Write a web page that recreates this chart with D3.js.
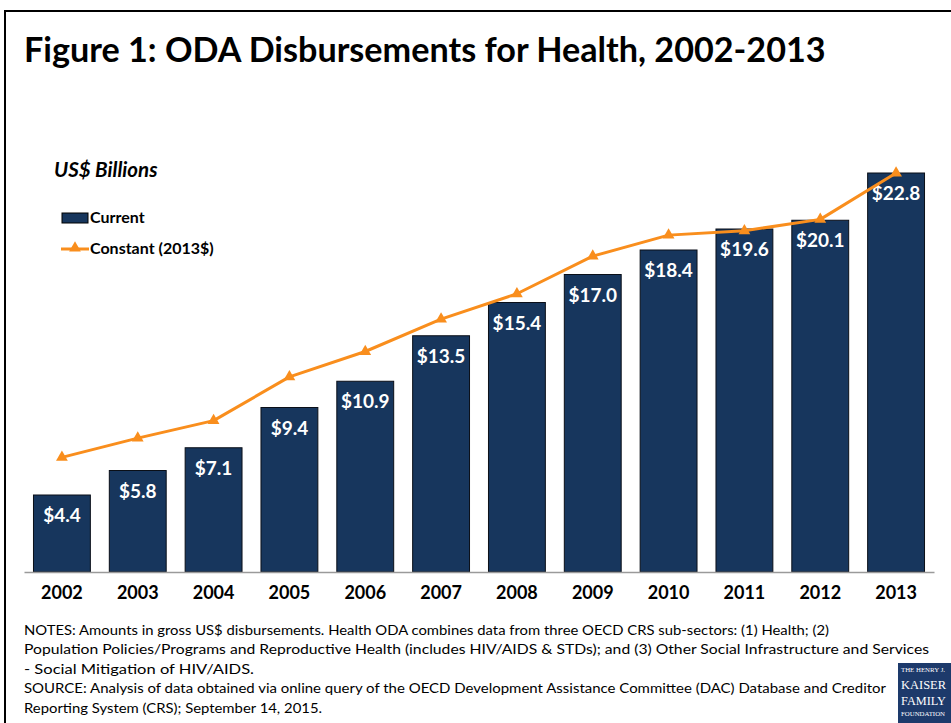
<!DOCTYPE html>
<html>
<head>
<meta charset="utf-8">
<script src="https://cdn.jsdelivr.net/npm/d3@7"></script>
<style>
  html, body { margin: 0; padding: 0; background: #fff; }
  svg { display: block; }
  text { font-family: Lato, "Open Sans", sans-serif; }
</style>
</head>
<body>
<svg id="chart" width="951" height="723"></svg>
<script>
// Health ODA disbursements, US$ billions
const years = ["2002", "2003", "2004", "2005", "2006", "2007", "2008", "2009", "2010", "2011", "2012", "2013"];
const currentValues = [4.4, 5.8, 7.1, 9.4, 10.9, 13.5, 15.4, 17.0, 18.4, 19.6, 20.1, 22.8];
const constantValues = [6.55, 7.65, 8.65, 11.15, 12.6, 14.45, 15.9, 18.05, 19.25, 19.5, 20.15, 22.8];
const seriesNames = ["Current", "Constant (2013$)"];

const notesLines = [
  "NOTES: Amounts in gross US$ disbursements. Health ODA combines data from three OECD CRS sub-sectors: (1) Health; (2)",
  "Population Policies/Programs and Reproductive Health (includes HIV/AIDS & STDs); and (3) Other Social Infrastructure and Services",
  "- Social Mitigation of HIV/AIDS.",
  "SOURCE: Analysis of data obtained via online query of the OECD Development Assistance Committee (DAC) Database and Creditor",
  "Reporting System (CRS); September 14, 2015."
];
// set widths of the note lines
const notesWidths = [805, 905, 230, 862, 298];

const barColor = "#17365d";
const lineColor = "#f98e1d";

const svg = d3.select("#chart");

// outer frame
svg.append("rect")
  .attr("x", 5).attr("y", 11)
  .attr("width", 960).attr("height", 730)
  .attr("fill", "none").attr("stroke", "#000").attr("stroke-width", 2);

// title, sized to its line width
const title = svg.append("text")
  .attr("x", 24).attr("y", 62)
  .attr("font-weight", 700)
  .attr("font-size", 34)
  .attr("fill", "#000")
  .text("Figure 1: ODA Disbursements for Health, 2002-2013");
{
  const w = title.node().getComputedTextLength();
  title.attr("font-size", 34 * 802 / w);
}

svg.append("text")
  .attr("x", 54).attr("y", 177)
  .attr("font-weight", 700).attr("font-style", "italic")
  .attr("font-size", 20.5)
  .text("US$ Billions");

// scales
const x = d3.scaleBand().domain(years).range([24, 934]).paddingInner(0.25).paddingOuter(0.125);
const y = d3.scaleLinear().domain([0, 25]).range([572, 134.5]);

// bars
svg.append("g").selectAll("rect")
  .data(years.map((yr, i) => ({ yr, v: currentValues[i] })))
  .join("rect")
  .attr("x", d => x(d.yr))
  .attr("y", d => y(d.v))
  .attr("width", x.bandwidth())
  .attr("height", d => y(0) - y(d.v))
  .attr("fill", barColor)
  .attr("stroke", "#0a0f18").attr("stroke-width", 1);

// bar value labels
svg.append("g").selectAll("text")
  .data(years.map((yr, i) => ({ yr, v: currentValues[i] })))
  .join("text")
  .attr("x", d => x(d.yr) + x.bandwidth() / 2)
  .attr("y", d => y(d.v) + 27)
  .attr("text-anchor", "middle")
  .attr("font-weight", 700).attr("font-size", 19)
  .attr("fill", "#fff")
  .text(d => "$" + d.v.toFixed(1));

// x axis
const xAxis = svg.append("g")
  .attr("transform", `translate(0,${y(0)})`)
  .call(d3.axisBottom(x).tickSize(0).tickPadding(0));
xAxis.select(".domain").attr("stroke", "#9a9a9a").attr("stroke-width", 1.5);
xAxis.selectAll(".tick text")
  .attr("dy", 0).attr("y", 27)
  .attr("font-family", "Lato, sans-serif")
  .attr("font-size", 18).attr("font-weight", 700).attr("fill", "#000");

// constant-dollar line
const line = d3.line()
  .x((d, i) => x(years[i]) + x.bandwidth() / 2)
  .y(d => y(d));
svg.append("path")
  .datum(constantValues)
  .attr("d", line)
  .attr("fill", "none").attr("stroke", lineColor)
  .attr("stroke-width", 3).attr("stroke-linejoin", "round");

const tri = d3.symbol().type(d3.symbolTriangle).size(60);
svg.append("g").selectAll("path")
  .data(constantValues)
  .join("path")
  .attr("transform", (d, i) => `translate(${x(years[i]) + x.bandwidth() / 2},${y(d)})`)
  .attr("d", tri)
  .attr("fill", lineColor);

// legend
const legend = svg.append("g");
legend.append("rect")
  .attr("x", 62).attr("y", 213).attr("width", 26).attr("height", 10)
  .attr("fill", barColor).attr("stroke", "#000").attr("stroke-width", 1);
legend.append("text")
  .attr("x", 90).attr("y", 223)
  .attr("font-weight", 700).attr("font-size", 16)
  .text(seriesNames[0]);
legend.append("line")
  .attr("x1", 61).attr("x2", 89).attr("y1", 249).attr("y2", 249)
  .attr("stroke", lineColor).attr("stroke-width", 3);
legend.append("path")
  .attr("transform", "translate(75,248)")
  .attr("d", tri).attr("fill", lineColor);
legend.append("text")
  .attr("x", 90).attr("y", 254)
  .attr("font-weight", 700).attr("font-size", 16)
  .text(seriesNames[1]);

// notes and source
svg.append("g").selectAll("text")
  .data(notesLines)
  .join("text")
  .attr("x", 24)
  .attr("y", (d, i) => 635 + i * 19.4)
  .attr("font-size", 13)
  .attr("fill", "#000")
  .attr("textLength", (d, i) => notesWidths[i])
  .attr("lengthAdjust", "spacingAndGlyphs")
  .text(d => d);

// foundation badge
const logo = svg.append("g").attr("transform", "translate(898,663)");
logo.append("rect").attr("width", 70).attr("height", 70).attr("fill", "#1d3a6b");
const badgeLines = [
  { t: "THE HENRY J.", y: 9, s: 6.5, w: 44 },
  { t: "KAISER", y: 26, s: 13.5, w: 45 },
  { t: "FAMILY", y: 42, s: 13.5, w: 45 },
  { t: "FOUNDATION", y: 53, s: 6.5, w: 44 }
];
logo.selectAll("text")
  .data(badgeLines)
  .join("text")
  .attr("x", 3).attr("y", d => d.y)
  .style("font-family", "'Liberation Serif', 'DejaVu Serif', serif")
  .attr("font-size", d => d.s)
  .attr("fill", "#fff")
  .attr("textLength", d => d.w)
  .attr("lengthAdjust", "spacingAndGlyphs")
  .text(d => d.t);
</script>
</body>
</html>
